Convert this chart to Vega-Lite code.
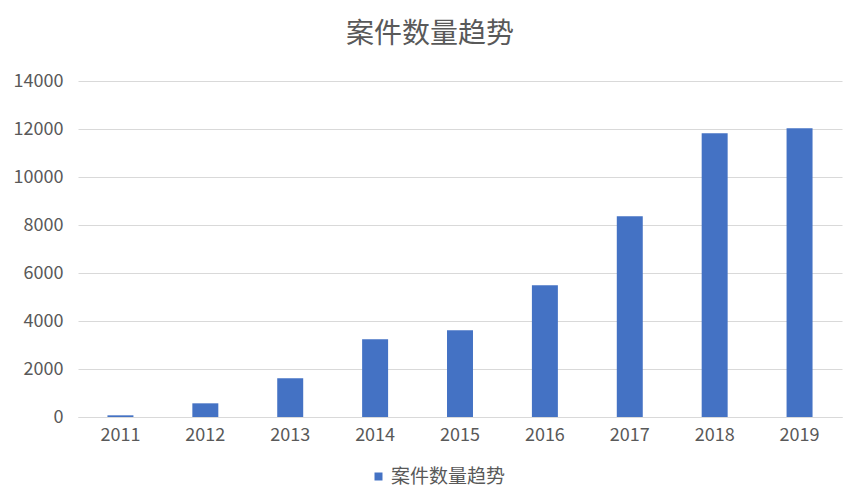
{
  "$schema": "https://vega.github.io/schema/vega-lite/v6.json",
  "description": "案件数量趋势 bar chart, 2011-2019",
  "width": 764,
  "height": 336,
  "autosize": {"type": "none"},
  "padding": {"left": 78, "top": 81, "right": 22, "bottom": 87},
  "background": "white",
  "title": {
    "text": "案件数量趋势",
    "font": "Noto Sans CJK SC",
    "fontSize": 28,
    "fontWeight": "normal",
    "color": "#595959",
    "anchor": "middle",
    "dx": -30,
    "offset": 23
  },
  "data": {
    "values": [
      {"year": "2011", "count": 70},
      {"year": "2012", "count": 570},
      {"year": "2013", "count": 1610},
      {"year": "2014", "count": 3240},
      {"year": "2015", "count": 3610},
      {"year": "2016", "count": 5490},
      {"year": "2017", "count": 8360},
      {"year": "2018", "count": 11820},
      {"year": "2019", "count": 12030}
    ]
  },
  "mark": {"type": "bar"},
  "encoding": {
    "x": {
      "field": "year",
      "type": "ordinal",
      "title": null,
      "scale": {"paddingInner": 0.694, "paddingOuter": 0.347},
      "axis": {
        "labelAngle": 0,
        "ticks": false,
        "domain": true,
        "domainColor": "#D9D9D9",
        "domainWidth": 1,
        "labelPadding": 9,
        "grid": false
      }
    },
    "y": {
      "field": "count",
      "type": "quantitative",
      "title": null,
      "scale": {"domain": [0, 14000], "nice": false},
      "axis": {
        "values": [0, 2000, 4000, 6000, 8000, 10000, 12000, 14000],
        "format": "d",
        "ticks": false,
        "domain": false,
        "labelPadding": 15,
        "grid": true,
        "gridColor": "#D9D9D9",
        "gridWidth": 1
      }
    },
    "color": {
      "datum": "案件数量趋势",
      "type": "nominal",
      "scale": {"range": ["#4472C4"]},
      "legend": {
        "title": null,
        "orient": "none",
        "legendX": 291,
        "legendY": 386,
        "direction": "horizontal",
        "symbolType": "square",
        "symbolSize": 64,
        "labelFontSize": 19,
        "labelFont": "Noto Sans CJK SC",
        "labelColor": "#595959",
        "labelOffset": 3
      }
    }
  },
  "config": {
    "axis": {
      "labelFont": "Noto Sans CJK SC",
      "labelFontSize": 18,
      "labelColor": "#595959"
    },
    "view": {"stroke": null}
  }
}
